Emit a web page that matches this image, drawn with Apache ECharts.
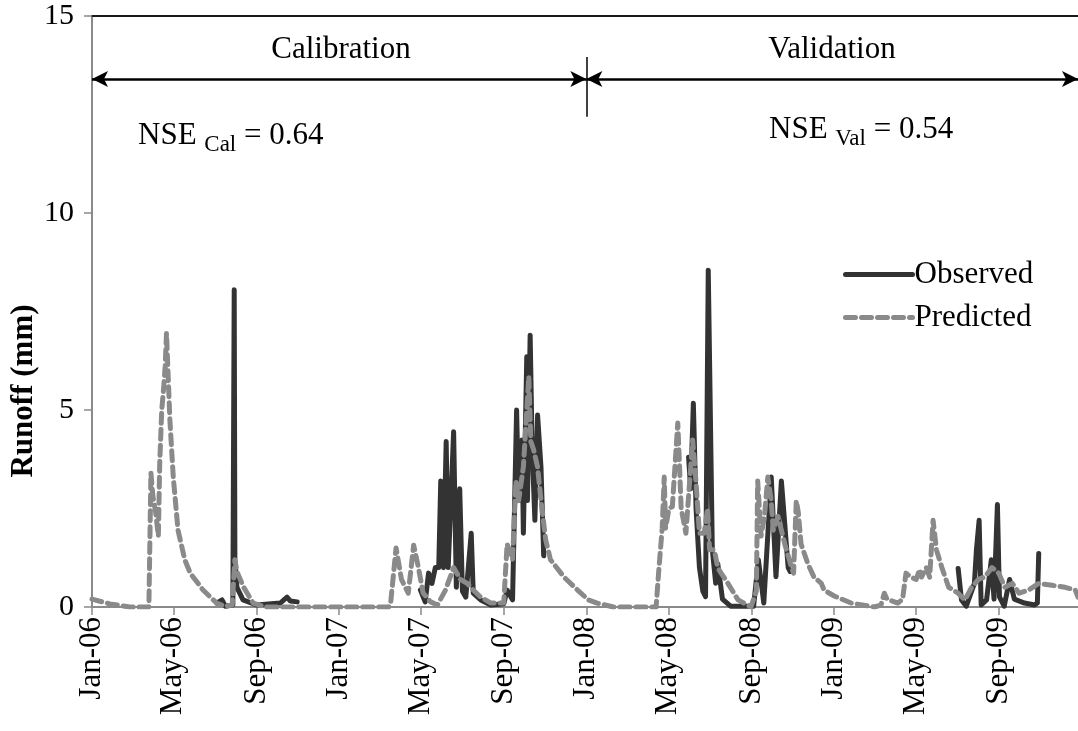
<!DOCTYPE html>
<html>
<head>
<meta charset="utf-8">
<script src="https://cdn.jsdelivr.net/npm/echarts@6/dist/echarts.min.js"></script>
<style>
html,body{margin:0;padding:0;background:#fff;}
#chart{width:1078px;height:731px;}
</style>
</head>
<body>
<div id="chart"></div>
<script>
// ---- Data ----
const tickDates = ['2006-01-01','2006-05-01','2006-09-01','2007-01-01','2007-05-01','2007-09-01','2008-01-01','2008-05-01','2008-09-01','2009-01-01','2009-05-01','2009-09-01'];
const tickLabels = ['Jan-06','May-06','Sep-06','Jan-07','May-07','Sep-07','Jan-08','May-08','Sep-08','Jan-09','May-09','Sep-09'];
const yTicks = [0, 5, 10, 15];

const observed2006 = [['2006-07-04',0.1],['2006-07-12',0.18],['2006-07-17',0.02],['2006-07-28',0.05],['2006-07-29',0.1],['2006-07-30',8.05],['2006-07-31',1.2],['2006-08-03',0.5],['2006-08-12',0.18],['2006-09-01',0.05],['2006-10-06',0.1],['2006-10-16',0.25],['2006-10-21',0.15],['2006-10-31',0.13]];
const observed2007 = [['2007-05-01',0.43],['2007-05-08',0.13],['2007-05-13',0.86],['2007-05-18',0.6],['2007-05-23',1.0],['2007-05-28',1.0],['2007-05-31',3.2],['2007-06-02',1.2],['2007-06-04',1.0],['2007-06-08',4.2],['2007-06-11',1.0],['2007-06-19',4.45],['2007-06-23',0.5],['2007-06-28',3.0],['2007-07-02',0.4],['2007-07-07',0.25],['2007-07-15',1.87],['2007-07-18',0.35],['2007-07-29',0.18],['2007-08-13',0.05],['2007-09-01',0.08],['2007-09-06',0.43],['2007-09-14',0.18],['2007-09-20',5.0],['2007-09-23',2.7],['2007-09-28',4.24],['2007-09-30',1.87],['2007-10-05',6.35],['2007-10-06',2.7],['2007-10-10',6.9],['2007-10-13',4.0],['2007-10-17',2.2],['2007-10-21',4.87],['2007-10-26',3.55],['2007-10-30',1.3]];
const observed2008 = [['2008-05-31',3.8],['2008-06-03',3.0],['2008-06-07',5.17],['2008-06-11',2.5],['2008-06-16',1.0],['2008-06-21',0.4],['2008-06-25',0.26],['2008-06-29',8.55],['2008-07-05',1.45],['2008-07-10',0.6],['2008-07-13',1.1],['2008-07-20',0.2],['2008-08-01',0.02],['2008-09-04',0.02],['2008-09-11',1.2],['2008-09-19',0.1],['2008-09-30',3.3],['2008-10-07',0.77],['2008-10-15',3.2],['2008-10-25',1.0],['2008-10-28',0.9]];
const observed2009 = [['2009-07-03',0.98],['2009-07-08',0.18],['2009-07-15',0.02],['2009-07-27',0.6],['2009-07-30',1.45],['2009-08-03',2.2],['2009-08-06',0.05],['2009-08-14',0.18],['2009-08-21',1.2],['2009-08-25',0.2],['2009-08-30',2.6],['2009-09-02',0.26],['2009-09-09',0.02],['2009-09-17',0.7],['2009-09-24',0.2],['2009-10-09',0.1],['2009-10-24',0.05],['2009-10-28',0.1],['2009-10-30',1.36]];

const predicted = [
['2006-01-01',0.2],['2006-01-27',0.08],['2006-02-26',0],['2006-03-26',0],['2006-03-29',3.4],['2006-04-01',2.8],['2006-04-05',2.4],['2006-04-09',1.8],['2006-04-11',3.65],['2006-04-14',5.0],['2006-04-17',5.6],['2006-04-19',6.1],['2006-04-21',6.95],['2006-04-26',4.75],['2006-05-01',3.3],['2006-05-08',1.95],['2006-05-18',1.2],['2006-05-26',0.86],['2006-06-14',0.43],['2006-07-04',0.1],['2006-07-16',0.02],['2006-07-27',0.05],['2006-07-31',1.2],['2006-08-03',0.9],['2006-08-13',0.5],['2006-08-27',0.1],['2006-09-14',0],
['2007-03-15',0],['2007-03-18',0.1],['2007-03-26',1.5],['2007-03-29',1.2],['2007-04-03',0.7],['2007-04-13',0.35],['2007-04-21',1.57],['2007-04-28',1.0],['2007-05-05',0.35],['2007-05-16',0.13],['2007-05-26',0.05],['2007-06-07',0.43],['2007-06-19',1.0],['2007-06-29',0.7],['2007-07-09',0.6],['2007-07-18',0.43],['2007-07-29',0.25],['2007-08-13',0.1],['2007-09-01',0.1],['2007-09-06',1.6],['2007-09-14',1.2],['2007-09-19',3.2],['2007-09-23',2.7],['2007-09-30',3.55],['2007-10-08',5.85],['2007-10-11',4.2],['2007-10-15',4.0],['2007-10-21',3.55],['2007-10-26',2.7],['2007-11-02',1.7],['2007-11-09',1.2],['2007-11-29',0.76],['2007-12-19',0.43],
['2008-01-04',0.18],['2008-01-17',0.1],['2008-02-10',0],['2008-04-13',0],['2008-04-17',0.94],['2008-04-22',2.0],['2008-04-25',3.3],['2008-04-27',2.0],['2008-05-02',2.5],['2008-05-07',2.55],['2008-05-15',4.67],['2008-05-18',3.4],['2008-05-20',2.5],['2008-05-27',1.87],['2008-06-06',4.24],['2008-06-11',3.15],['2008-06-16',1.87],['2008-06-23',1.87],['2008-06-28',2.5],['2008-07-01',1.45],['2008-07-08',1.45],['2008-07-13',1.0],['2008-07-18',0.86],['2008-07-28',0.6],['2008-08-12',0.18],['2008-08-31',0],['2008-09-08',0.4],['2008-09-10',3.2],['2008-09-15',1.8],['2008-09-20',2.3],['2008-09-25',3.3],['2008-09-30',2.7],['2008-10-03',1.95],['2008-10-10',2.3],['2008-10-20',1.6],['2008-10-30',1.0],['2008-11-02',0.86],['2008-11-06',2.7],['2008-11-09',2.4],['2008-11-13',1.6],['2008-11-23',1.1],['2008-12-02',0.76],['2008-12-13',0.6],['2008-12-17',0.43],
['2009-01-01',0.28],['2009-01-26',0.1],['2009-03-01',0],['2009-03-11',0.05],['2009-03-16',0.35],['2009-03-20',0.2],['2009-04-05',0.1],['2009-04-12',0.2],['2009-04-17',0.86],['2009-04-24',0.76],['2009-05-02',0.7],['2009-05-07',0.95],['2009-05-10',0.76],['2009-05-17',1.0],['2009-05-22',0.76],['2009-05-27',2.2],['2009-06-01',1.45],['2009-06-09',1.0],['2009-06-19',0.5],['2009-07-03',0.35],['2009-07-13',0.18],['2009-07-23',0.5],['2009-08-02',0.7],['2009-08-11',0.76],['2009-08-22',1.0],['2009-09-01',0.86],['2009-09-10',0.5],['2009-09-21',0.6],['2009-10-01',0.35],['2009-10-15',0.43],['2009-10-30',0.6],['2009-11-19',0.55],['2009-12-08',0.5],['2009-12-23',0.43],['2009-12-27',0.25]
];

// ---- Build options ----
function toTs(s){ const p = s.split('-').map(Number); return Date.UTC(p[0], p[1]-1, p[2]); }
function pts(arr){ return arr.map(d => [toTs(d[0]), d[1]]); }
const gap = ts => [ts, '-'];
const observed = [].concat(
  pts(observed2006), [gap(toTs('2006-12-01'))],
  pts(observed2007), [gap(toTs('2007-12-01'))],
  pts(observed2008), [gap(toTs('2008-12-01'))],
  pts(observed2009)
);
const tickTs = tickDates.map(toTs);
const labelOf = {};
tickTs.forEach((t,i) => labelOf[t] = tickLabels[i]);

const xMin = toTs('2006-01-01');
const xMax = toTs('2009-12-27');
const FONT = '"Liberation Serif","Times New Roman",serif';
const axisGray = '#8a8a8a';

const chart = echarts.init(document.getElementById('chart'));
chart.setOption({
  animation: false,
  backgroundColor: '#fff',
  grid: { left: 92, right: 0, top: 16, bottom: 124 },
  legend: {
    orient: 'vertical', left: 843, top: 259, padding: 0,
    itemWidth: 67, itemHeight: 14, itemGap: 12,
    itemStyle: { opacity: 0 },
    lineStyle: { width: 5 },
    textStyle: { fontFamily: FONT, fontSize: 31, color: '#000', padding: [0,0,0,-3] },
    data: ['Observed', 'Predicted']
  },
  xAxis: [{
    type: 'value', min: xMin, max: xMax,
    axisLine: { show: true, lineStyle: { color: axisGray, width: 2 } },
    axisTick: { show: true, customValues: tickTs, length: 8, lineStyle: { color: axisGray, width: 1.5 } },
    axisLabel: {
      customValues: tickTs, rotate: 90, margin: 10,
      fontFamily: FONT, fontSize: 31, color: '#000',
      formatter: v => labelOf[v] || ''
    },
    splitLine: { show: false }
  }, {
    type: 'value', min: xMin, max: xMax, position: 'top',
    axisLine: { show: true, lineStyle: { color: '#1a1a1a', width: 2 } },
    axisTick: { show: false }, axisLabel: { show: false }, splitLine: { show: false }
  }],
  yAxis: {
    type: 'value', min: 0, max: 15, interval: 5,
    axisLine: { show: true, lineStyle: { color: axisGray, width: 2 } },
    axisTick: { show: true, inside: false, length: 8, lineStyle: { color: axisGray, width: 1.5 } },
    axisLabel: { fontFamily: FONT, fontSize: 30, color: '#000', margin: 18 },
    splitLine: { show: false }
  },
  graphic: [
    { type: 'text', x: 24, y: 391, rotation: Math.PI/2,
      style: { text: 'Runoff (mm)', font: 'bold 31px "Liberation Serif", serif', fill: '#000', textAlign: 'center', textVerticalAlign: 'middle' } },
    { type: 'text', x: 341, y: 50, style: { text: 'Calibration', font: '31px "Liberation Serif", serif', fill: '#000', textAlign: 'center', textVerticalAlign: 'middle' } },
    { type: 'text', x: 832, y: 50, style: { text: 'Validation', font: '31px "Liberation Serif", serif', fill: '#000', textAlign: 'center', textVerticalAlign: 'middle' } },
    { type: 'text', x: 138, y: 120, style: {
      text: '{a|NSE }{b|Cal}{a| = 0.64}', fill: '#000', textVerticalAlign: 'top',
      rich: { a: { fontFamily: FONT, fontSize: 31, lineHeight: 36, verticalAlign: 'top', fill: '#000' },
              b: { fontFamily: FONT, fontSize: 23, lineHeight: 16, verticalAlign: 'bottom', fill: '#000' } } } },
    { type: 'text', x: 769, y: 114, style: {
      text: '{a|NSE }{b|Val}{a| = 0.54}', fill: '#000', textVerticalAlign: 'top',
      rich: { a: { fontFamily: FONT, fontSize: 31, lineHeight: 36, verticalAlign: 'top', fill: '#000' },
              b: { fontFamily: FONT, fontSize: 23, lineHeight: 16, verticalAlign: 'bottom', fill: '#000' } } } }
  ],
  series: [{
    name: 'Observed', type: 'line', data: observed, symbol: 'none',
    connectNulls: false,
    lineStyle: { color: '#333333', width: 5, join: 'round', cap: 'round' },
    itemStyle: { color: '#333333' },
    markLine: {
      silent: true, symbol: ['arrow', 'arrow'], symbolSize: [12, 16],
      label: { show: false },
      lineStyle: { color: '#000', width: 2.5, type: 'solid' },
      data: [
        [{ coord: [toTs('2006-01-01'), 13.4] }, { coord: [toTs('2008-01-01'), 13.4] }],
        [{ coord: [toTs('2008-01-01'), 13.4] }, { coord: [xMax, 13.4] }],
        [{ coord: [toTs('2008-01-01'), 13.96], symbol: 'none' }, { coord: [toTs('2008-01-01'), 12.44], symbol: 'none', lineStyle: { width: 1.5 } }]
      ]
    },
    z: 2
  }, {
    name: 'Predicted', type: 'line', data: pts(predicted), symbol: 'none',
    lineStyle: { color: '#8a8a8a', width: 5, type: [10, 6], join: 'round', cap: 'round' },
    itemStyle: { color: '#8a8a8a' },
    z: 3
  }]
});
</script>
</body>
</html>
